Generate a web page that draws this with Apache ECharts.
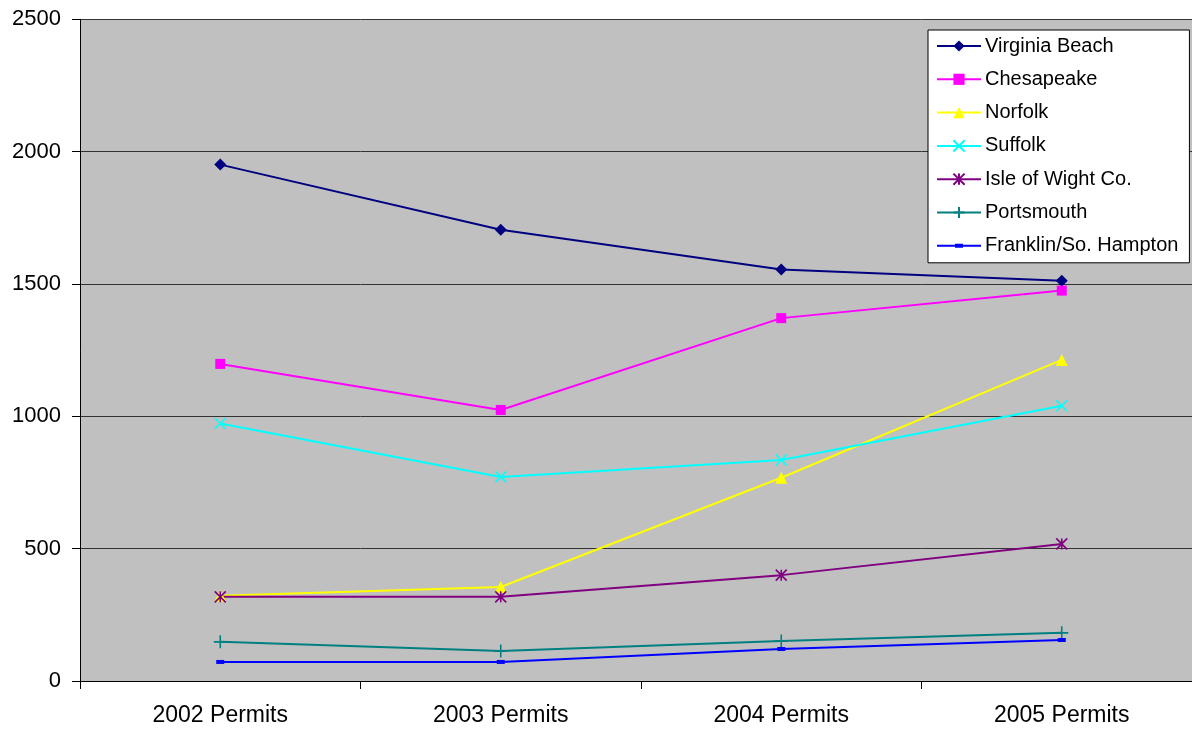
<!DOCTYPE html>
<html>
<head>
<meta charset="utf-8">
<title>Building Permits 2002–2005</title>
<script src="https://cdn.jsdelivr.net/npm/echarts@6/dist/echarts.min.js"></script>
<style>
  html, body { margin: 0; padding: 0; background: #ffffff; overflow: hidden; }
  /* plot area runs slightly past the right edge of the page */
  #chart { width: 1202px; height: 729px; }
</style>
</head>
<body>
<div id="chart"></div>
<script>
// Permit counts per locality, 2002–2005
const categories = ['2002 Permits', '2003 Permits', '2004 Permits', '2005 Permits'];

const virginiaBeach = [1951, 1705, 1555, 1512];
const chesapeake    = [1198, 1024, 1371, 1475];
const norfolk       = [322, 355, 768, 1213];
const suffolk       = [973, 771, 835, 1040];
const isleOfWight   = [318, 318, 400, 518];
const portsmouth    = [148, 113, 151, 182];
const franklin      = [72, 72, 121, 155];

const yTicks = { min: 0, max: 2500, interval: 500 };

const FONT = '"Liberation Sans", Arial, sans-serif';

// Stroke-only marker outlines
const X_MARK    = 'path://M0,0L10,10M10,0L0,10';
const STAR_MARK = 'path://M0,0L10,10M10,0L0,10M5,0L5,10';
const PLUS_MARK = 'path://M5,0L5,10M0,5L10,5';
// Legend key for the dash marker: thin line with a short bar in the middle
const DASH_KEY  = 'path://M0,6h44v2h-44z M18,5h8v4h-8z';

function lineSeries(name, data, color, symbol, symbolSize, stroked) {
  return {
    name: name,
    type: 'line',
    data: data,
    symbol: symbol,
    symbolSize: symbolSize,
    showSymbol: true,
    animation: false,
    lineStyle: { color: color, width: 2 },
    itemStyle: stroked
      ? { color: color, borderColor: color, borderWidth: 1.6 }
      : { color: color, borderWidth: 0 },
    emphasis: { disabled: true }
  };
}

const chart = echarts.init(document.getElementById('chart'), null, { renderer: 'canvas' });

chart.setOption({
  backgroundColor: '#ffffff',
  animation: false,
  textStyle: { fontFamily: FONT },
  grid: {
    left: 80,
    top: 19.3,
    right: 0,
    bottom: 48,
    show: true,
    backgroundColor: '#C0C0C0',
    borderWidth: 0,
    containLabel: false
  },
  legend: {
    orient: 'vertical',
    left: 928,
    top: 30,
    padding: [6, 11, 7, 8],
    itemWidth: 44,
    itemHeight: 14,
    itemGap: 13.3,
    backgroundColor: '#ffffff',
    borderColor: '#000000',
    borderWidth: 1,
    borderRadius: 0,
    textStyle: { fontFamily: FONT, fontSize: 20, color: '#000000', lineHeight: 20, padding: [0, 0, 0, -1] },
    data: [
      'Virginia Beach', 'Chesapeake', 'Norfolk', 'Suffolk', 'Isle of Wight Co.', 'Portsmouth',
      { name: 'Franklin/So. Hampton', icon: DASH_KEY }
    ]
  },
  xAxis: {
    type: 'category',
    data: categories,
    boundaryGap: true,
    axisLine: { show: true, lineStyle: { color: '#000000', width: 1 } },
    axisTick: { show: true, length: 8, alignWithLabel: false, lineStyle: { color: '#000000' } },
    axisLabel: { fontFamily: FONT, fontSize: 23, color: '#000000', margin: 23 },
    splitLine: { show: false }
  },
  yAxis: {
    type: 'value',
    min: yTicks.min,
    max: yTicks.max,
    interval: yTicks.interval,
    axisLine: { show: true, lineStyle: { color: '#000000', width: 1 } },
    axisTick: { show: true, length: 8, lineStyle: { color: '#000000' } },
    axisLabel: {
      fontFamily: FONT, fontSize: 22, color: '#000000', margin: 19,
      formatter: function (v) { return String(v); }
    },
    splitLine: { show: true, lineStyle: { color: '#333333', width: 1 } }
  },
  series: [
    lineSeries('Virginia Beach', virginiaBeach, '#000080', 'diamond', 12, false),
    lineSeries('Chesapeake', chesapeake, '#FF00FF', 'rect', 10, false),
    lineSeries('Norfolk', norfolk, '#FFFF00', 'triangle', 12, false),
    lineSeries('Suffolk', suffolk, '#00FFFF', X_MARK, 11, true),
    lineSeries('Isle of Wight Co.', isleOfWight, '#800080', STAR_MARK, 11, true),
    lineSeries('Portsmouth', portsmouth, '#008080', PLUS_MARK, 13, true),
    lineSeries('Franklin/So. Hampton', franklin, '#0000FF', 'rect', [8, 4], false)
  ]
});
</script>
</body>
</html>
